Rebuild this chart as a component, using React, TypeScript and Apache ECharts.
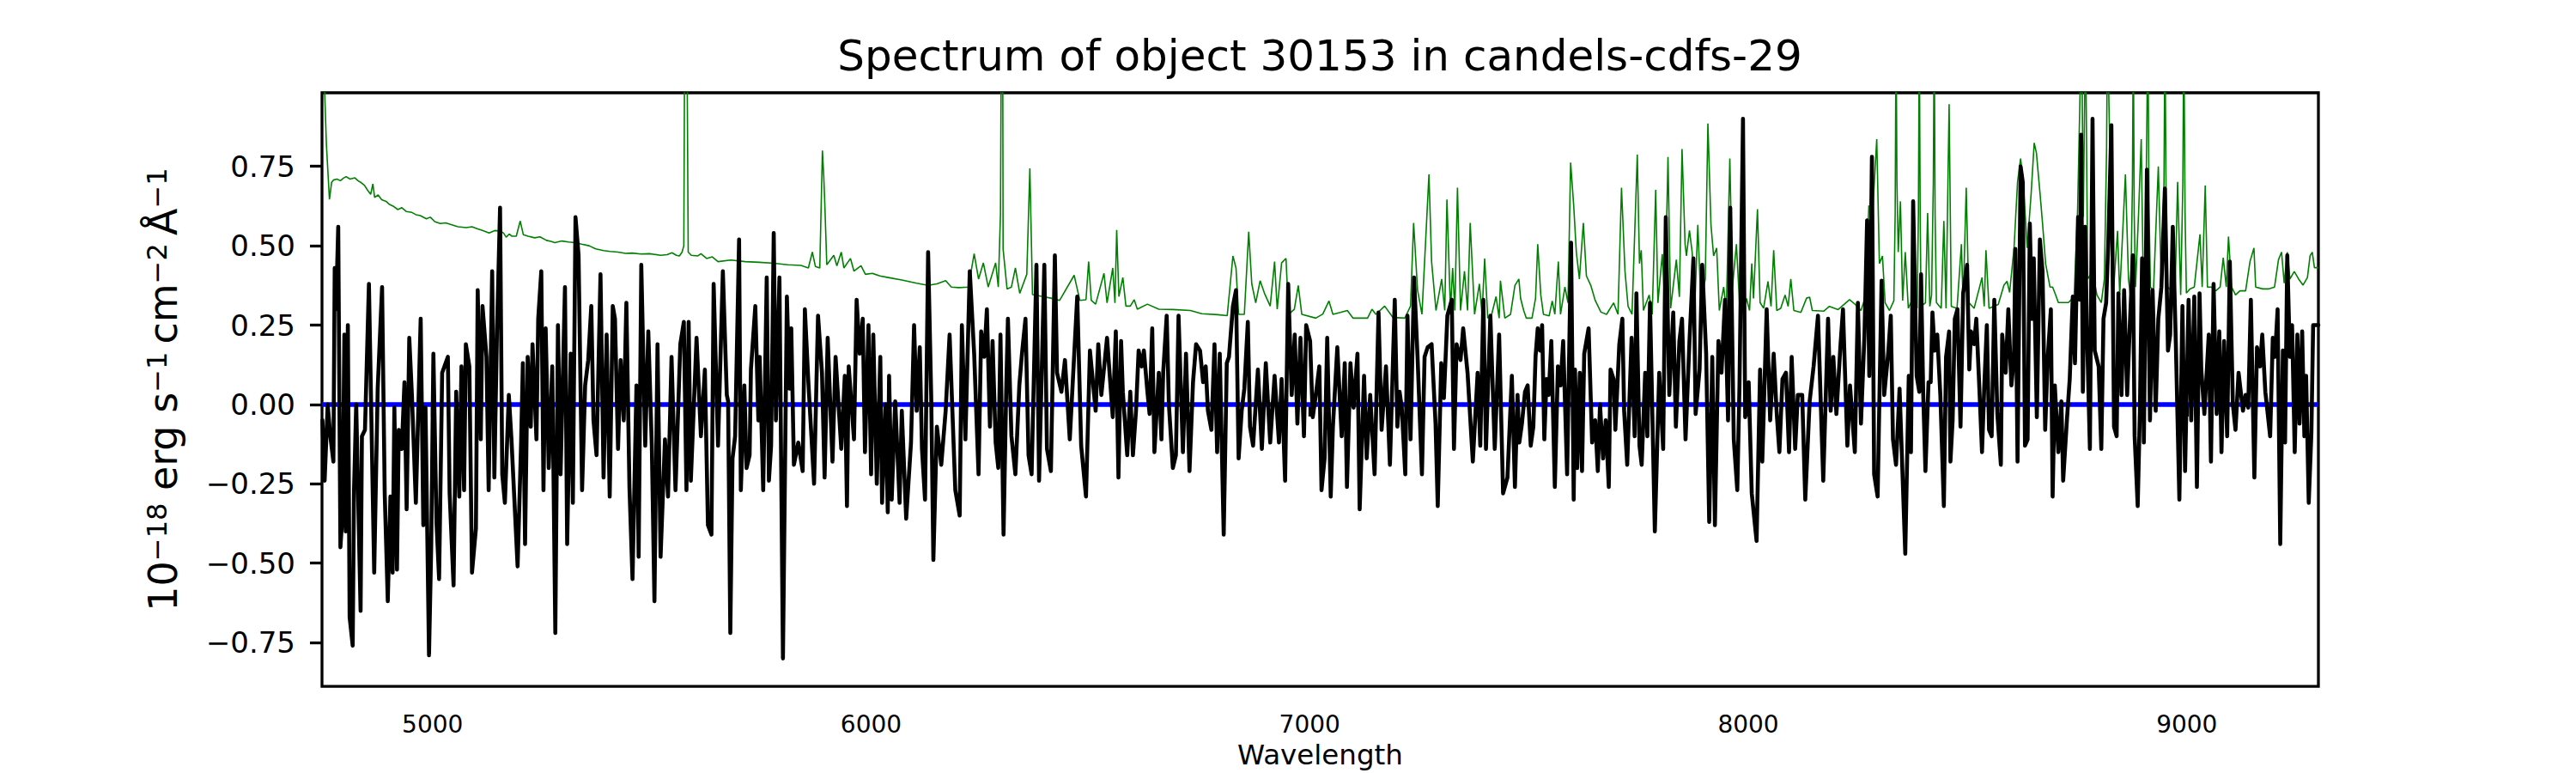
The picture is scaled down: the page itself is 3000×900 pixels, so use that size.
import React, { useEffect, useRef } from "react";
import * as echarts from "echarts";

// ---- Data (wavelength in Å, flux in 1e-18 erg/s/cm2/Å) ----
const TITLE = "Spectrum of object 30153 in candels-cdfs-29";
const X_NAME = "Wavelength";
const X_MIN = 4748;
const X_MAX = 9300;
const Y_MIN = -0.888;
const Y_MAX = 0.982;
const X_TICKS = [5000, 6000, 7000, 8000, 9000];
const Y_TICKS = [-0.75, -0.5, -0.25, 0, 0.25, 0.5, 0.75];
const ZERO_LEVEL = 0;

const blackA = [
  [4749, -0.05], [4754, -0.24], [4761, 0.0], [4767, -0.1], [4774, -0.18], [4777, 0.43], [4780, 0.3], [4785, 0.56],
  [4790, -0.45], [4795, -0.34], [4799, 0.22], [4802, -0.4], [4807, 0.25], [4811, -0.67], [4818, -0.76], [4821, -0.27],
  [4826, 0.0], [4836, -0.65], [4839, -0.1], [4846, -0.08], [4855, 0.38], [4867, -0.53], [4875, 0.05], [4885, 0.37],
  [4891, -0.28], [4898, -0.62], [4904, -0.29], [4909, -0.53], [4913, -0.01], [4919, -0.52], [4923, -0.08], [4930, -0.14],
  [4936, 0.07], [4941, -0.33], [4947, 0.21], [4953, 0.03], [4962, -0.31], [4973, 0.27], [4979, -0.38], [4984, -0.01],
  [4992, -0.79], [4997, -0.45], [5002, 0.16], [5009, -0.37], [5015, -0.55], [5022, 0.1], [5035, 0.15], [5039, -0.28],
  [5048, -0.57], [5054, 0.04], [5061, -0.29], [5066, 0.12], [5072, -0.27], [5076, 0.19], [5084, 0.12], [5090, -0.53],
  [5099, -0.39], [5103, 0.36], [5110, -0.11], [5114, 0.31], [5123, 0.15], [5128, -0.27], [5136, 0.42], [5141, -0.23],
  [5147, 0.23], [5154, 0.62], [5159, -0.22], [5165, -0.31], [5174, 0.03], [5180, -0.11], [5194, -0.51], [5202, -0.12],
  [5206, 0.13], [5211, -0.44], [5217, 0.15], [5224, -0.07], [5228, 0.19], [5237, -0.11], [5241, 0.27], [5248, 0.42],
  [5253, -0.27], [5258, 0.24], [5265, -0.2], [5273, 0.12], [5280, -0.72], [5286, 0.25], [5292, -0.22], [5302, 0.37],
  [5307, -0.44], [5315, 0.16], [5320, -0.31], [5326, 0.59], [5333, 0.47], [5341, -0.27], [5348, 0.06], [5355, 0.14],
  [5362, 0.31], [5367, -0.05], [5374, -0.16], [5383, 0.41], [5390, -0.23], [5397, 0.22], [5404, -0.29], [5411, 0.31],
  [5416, 0.27], [5423, -0.14], [5429, 0.14], [5436, -0.05], [5442, 0.32], [5449, -0.26], [5456, -0.55], [5465, 0.06],
  [5470, -0.48], [5476, 0.44], [5485, -0.13], [5492, 0.23], [5500, -0.13], [5506, -0.62], [5513, 0.19], [5520, -0.48],
  [5530, -0.11], [5537, -0.29], [5545, 0.15], [5554, -0.27], [5565, 0.19], [5573, 0.26], [5579, -0.27], [5584, 0.26],
  [5589, -0.24], [5602, 0.21], [5612, -0.1], [5621, 0.11], [5628, -0.38], [5636, -0.41], [5641, 0.38], [5651, -0.13],
];

const blackB = [
  [5662, 0.42], [5671, 0.03], [5674, 0.01], [5679, -0.72], [5684, -0.17], [5690, -0.1], [5699, 0.52], [5703, -0.27],
  [5711, 0.06], [5716, -0.2], [5723, -0.16], [5726, 0.11], [5736, 0.31], [5743, -0.05], [5746, 0.15], [5754, -0.27],
  [5762, 0.4], [5767, -0.24], [5772, -0.13], [5778, 0.54], [5783, -0.05], [5791, 0.4], [5799, -0.8], [5808, 0.34],
  [5814, 0.05], [5818, 0.24], [5824, -0.19], [5834, -0.12], [5844, -0.21], [5849, 0.3], [5857, 0.07], [5870, -0.25],
  [5879, 0.28], [5888, 0.1], [5894, -0.23], [5901, 0.21], [5912, -0.18], [5919, 0.15], [5932, -0.14], [5940, 0.09],
  [5945, -0.32], [5949, 0.12], [5961, -0.11], [5967, 0.33], [5974, 0.16], [5981, 0.27], [5986, -0.15], [5994, 0.25],
  [6000, -0.22], [6005, 0.22], [6013, -0.25], [6021, 0.15], [6025, -0.31], [6033, 0.0], [6038, -0.34], [6041, 0.09],
  [6047, -0.3], [6055, 0.01], [6065, -0.31], [6070, -0.02], [6080, -0.36], [6091, -0.12], [6098, 0.25], [6104, -0.02],
  [6111, 0.18], [6116, -0.14], [6123, -0.3], [6130, 0.48], [6137, 0.03], [6142, -0.49], [6150, -0.07], [6160, -0.19],
  [6170, -0.02], [6179, 0.22], [6192, -0.27], [6202, -0.35], [6207, 0.25], [6215, -0.11], [6225, 0.42], [6235, 0.16],
  [6245, -0.22], [6251, 0.23], [6258, 0.15], [6264, 0.3], [6271, -0.07], [6277, 0.2], [6284, -0.12], [6290, -0.2],
  [6295, 0.22], [6302, -0.41], [6308, 0.04], [6312, 0.27], [6320, -0.1], [6329, -0.22], [6338, 0.06], [6344, 0.16],
  [6352, 0.27], [6359, -0.16], [6366, -0.22], [6377, 0.44], [6383, -0.24], [6395, 0.44], [6401, -0.14], [6410, -0.21],
  [6419, 0.47], [6424, 0.1], [6434, 0.04], [6442, 0.14], [6453, -0.11], [6470, 0.34], [6479, -0.13], [6490, -0.29],
  [6499, 0.17], [6512, -0.02], [6518, 0.19], [6525, 0.03], [6538, 0.21], [6551, -0.04], [6558, 0.23], [6564, -0.23],
];

const blackC = [
  [6570, 0.2], [6574, 0.04], [6584, -0.16], [6591, 0.04], [6597, -0.16], [6604, -0.02], [6610, 0.17], [6617, 0.12],
  [6622, 0.17], [6630, 0.04], [6635, -0.03], [6641, 0.24], [6646, -0.15], [6656, 0.1], [6662, -0.11], [6666, 0.1],
  [6674, 0.28], [6679, 0.0], [6688, -0.2], [6695, -0.16], [6701, 0.28], [6711, -0.15], [6718, 0.16], [6726, -0.21],
  [6734, 0.07], [6741, 0.19], [6750, 0.17], [6757, 0.07], [6763, 0.12], [6768, -0.02], [6776, -0.08], [6783, 0.19],
  [6789, -0.15], [6795, 0.16], [6804, -0.41], [6811, 0.13], [6816, 0.15], [6825, 0.31], [6832, 0.36], [6838, -0.17],
  [6845, -0.02], [6851, 0.05], [6859, 0.26], [6864, -0.07], [6871, -0.13], [6882, 0.11], [6891, -0.14], [6900, 0.13],
  [6910, -0.12], [6920, 0.09], [6930, -0.12], [6936, 0.08], [6944, -0.24], [6951, 0.38], [6959, 0.03], [6966, 0.22],
  [6972, -0.06], [6979, 0.21], [6987, -0.1], [6992, 0.25], [7001, 0.2], [7007, -0.04], [7014, 0.03], [7022, 0.12],
  [7027, -0.27], [7034, -0.17], [7040, 0.21], [7048, -0.29], [7053, -0.07], [7063, 0.18], [7073, -0.1], [7080, 0.13],
  [7085, -0.26], [7093, 0.13], [7100, -0.01], [7109, 0.16], [7114, -0.33], [7124, 0.09], [7130, -0.17], [7138, 0.03],
  [7148, -0.22], [7157, 0.29], [7164, -0.08], [7174, 0.12], [7183, -0.19], [7194, 0.33], [7200, -0.07], [7205, 0.04],
  [7210, -0.01], [7218, -0.22], [7223, 0.28], [7230, -0.11], [7238, 0.4], [7246, 0.15], [7256, -0.22], [7262, 0.15],
  [7269, 0.18], [7278, 0.19], [7287, -0.06], [7292, -0.32], [7300, 0.13], [7306, 0.02], [7314, 0.28], [7324, 0.33],
  [7329, -0.14], [7335, 0.19], [7344, 0.14], [7350, 0.24], [7360, 0.1], [7372, -0.18], [7383, 0.1], [7389, -0.13],
  [7396, 0.33], [7402, -0.14], [7412, 0.28], [7422, -0.14], [7432, 0.22], [7441, -0.28], [7451, -0.23], [7461, 0.09],
  [7468, -0.26], [7474, 0.03],
];

const blackD = [
  [7478, -0.12], [7484, -0.06], [7491, 0.04], [7497, 0.06], [7504, -0.13], [7510, -0.07], [7515, 0.15], [7520, 0.24],
  [7525, 0.17], [7530, 0.25], [7535, -0.11], [7540, 0.08], [7545, 0.03], [7551, 0.2], [7559, -0.26], [7566, 0.12],
  [7572, 0.06], [7578, 0.2], [7587, -0.22], [7596, 0.51], [7602, -0.3], [7605, 0.11], [7610, -0.2], [7616, 0.1],
  [7621, -0.21], [7626, 0.16], [7636, 0.24], [7644, -0.12], [7651, -0.05], [7657, -0.21], [7662, 0.0], [7669, -0.17],
  [7675, -0.05], [7682, -0.26], [7686, 0.11], [7693, 0.08], [7697, -0.08], [7706, 0.19], [7713, 0.27], [7717, -0.02],
  [7724, -0.19], [7734, 0.21], [7741, -0.1], [7745, 0.35], [7752, -0.13], [7757, -0.19], [7765, 0.1], [7770, -0.1],
  [7776, 0.32], [7787, -0.4], [7797, 0.1], [7806, -0.14], [7812, 0.59], [7820, 0.03], [7829, 0.29], [7835, -0.07],
  [7843, 0.2], [7849, 0.27], [7857, -0.11], [7866, 0.2], [7875, 0.46], [7880, -0.03], [7889, 0.11], [7895, 0.44],
  [7904, 0.16], [7911, -0.37], [7918, 0.15], [7924, -0.38], [7932, 0.2], [7939, 0.1], [7947, 0.33], [7954, -0.05],
  [7959, 0.62], [7967, -0.11], [7975, -0.27], [7980, 0.06], [7988, 0.9], [7993, -0.04], [8001, 0.07], [8008, -0.28],
  [8019, -0.43], [8027, 0.11], [8032, -0.18], [8042, 0.3], [8050, -0.05], [8058, 0.16], [8065, -0.03], [8071, -0.15],
  [8078, 0.08], [8086, 0.1], [8093, -0.15], [8099, 0.15], [8107, -0.14], [8113, 0.03], [8123, 0.03], [8130, -0.3],
  [8140, 0.01], [8149, 0.12], [8159, 0.28], [8171, -0.24], [8182, 0.27], [8188, -0.02], [8194, 0.15], [8201, -0.03],
  [8210, 0.18], [8216, 0.3], [8226, -0.13], [8232, 0.06], [8243, -0.15], [8250, 0.32], [8257, -0.06], [8265, 0.22],
  [8271, 0.58], [8276, 0.09], [8282, 0.78], [8287, -0.22], [8295, -0.29], [8304, 0.39], [8310, 0.03], [8319, 0.16],
  [8325, 0.28], [8330, -0.11], [8337, -0.19], [8345, 0.05], [8358, -0.47], [8366, 0.09], [8371, -0.15], [8376, 0.64],
  [8384, 0.09],
];

const blackE = [
  [8390, 0.04], [8394, 0.41], [8399, 0.03], [8404, -0.21], [8411, 0.07], [8416, 0.07], [8420, 0.29], [8425, 0.17],
  [8431, 0.22], [8438, 0.03], [8446, -0.32], [8451, 0.15], [8458, 0.23], [8461, -0.18], [8466, -0.05], [8471, 0.27],
  [8477, 0.3], [8484, -0.07], [8490, 0.35], [8499, 0.44], [8504, 0.11], [8508, 0.23], [8515, 0.19], [8520, 0.27],
  [8527, 0.05], [8533, -0.15], [8538, 0.05], [8544, 0.25], [8549, -0.08], [8555, -0.1], [8561, 0.33], [8568, -0.03],
  [8576, -0.19], [8579, 0.22], [8587, 0.1], [8593, 0.3], [8600, 0.06], [8606, 0.15], [8609, 0.49], [8614, -0.18],
  [8621, 0.75], [8626, 0.7], [8631, -0.13], [8637, -0.11], [8642, 0.57], [8647, 0.27], [8651, 0.46], [8658, -0.04],
  [8665, 0.52], [8671, 0.42], [8677, -0.08], [8683, 0.15], [8690, 0.3], [8694, -0.29], [8699, 0.06], [8707, -0.15],
  [8714, 0.01], [8718, -0.24], [8727, -0.04], [8733, 0.08], [8740, 0.34], [8745, 0.13], [8752, 0.59], [8756, 0.33],
  [8759, 0.85], [8763, 0.04], [8768, 0.56], [8772, 0.25], [8779, -0.14], [8785, 0.9], [8790, 0.17], [8799, 0.12],
  [8805, -0.14], [8810, 0.27], [8816, 0.32], [8821, 0.51], [8828, 0.88], [8834, -0.07], [8840, -0.1], [8844, 0.35],
  [8851, 0.03], [8857, 0.36], [8864, 0.03], [8870, 0.25], [8877, 0.47], [8881, -0.1], [8888, -0.32], [8893, -0.02],
  [8898, 0.46], [8902, -0.12], [8909, 0.74], [8916, -0.05], [8922, 0.36], [8929, -0.02], [8935, 0.27], [8942, 0.37],
  [8950, 0.68], [8957, 0.17], [8962, 0.22], [8968, 0.56], [8975, 0.19], [8983, -0.3], [8990, 0.31], [8996, -0.21],
  [9004, 0.33], [9010, -0.05], [9017, 0.34], [9023, -0.26], [9029, 0.35], [9033, 0.11], [9040, -0.03], [9050, 0.22],
  [9055, -0.18], [9061, 0.38], [9068, -0.03], [9074, 0.23], [9079, -0.15], [9085, 0.2], [9092, -0.1], [9098, 0.45],
  [9105, 0.0], [9111, -0.08], [9118, 0.1], [9128, -0.02], [9134, 0.03], [9140, -0.01], [9146, 0.33], [9154, -0.23],
  [9160, 0.18], [9167, 0.12], [9172, 0.22], [9179, 0.04], [9190, -0.1], [9196, 0.21], [9201, 0.15], [9207, 0.3],
  [9213, -0.44], [9219, 0.17], [9224, -0.12], [9229, 0.47], [9235, 0.15], [9240, 0.25], [9246, -0.15], [9252, 0.22],
  [9257, -0.06], [9263, 0.23], [9268, -0.1], [9272, 0.09], [9278, -0.31], [9284, -0.09], [9288, 0.25], [9296, 0.25],
  [9300, 0.25],
];

const greenA = [
  [4749, 1.2], [4758, 0.82], [4765, 0.646], [4770, 0.7], [4774, 0.707], [4782, 0.71], [4790, 0.705], [4797, 0.713],
  [4803, 0.718], [4812, 0.71], [4823, 0.714], [4830, 0.705], [4836, 0.7], [4845, 0.69], [4852, 0.675], [4859, 0.662],
  [4864, 0.695], [4868, 0.652], [4876, 0.66], [4884, 0.645], [4894, 0.64], [4902, 0.63], [4910, 0.625], [4921, 0.614],
  [4930, 0.62], [4940, 0.608], [4953, 0.605], [4962, 0.598], [4972, 0.595], [4986, 0.585], [4995, 0.59], [5005, 0.576],
  [5018, 0.57], [5030, 0.572], [5044, 0.566], [5058, 0.56], [5077, 0.557], [5090, 0.56], [5103, 0.553], [5115, 0.548],
  [5129, 0.54], [5142, 0.548], [5155, 0.546], [5162, 0.54], [5168, 0.527], [5175, 0.537], [5181, 0.53], [5191, 0.53],
  [5200, 0.578], [5207, 0.535], [5218, 0.53], [5233, 0.525], [5245, 0.528], [5260, 0.517], [5270, 0.514], [5279, 0.51],
  [5295, 0.515], [5310, 0.512], [5325, 0.51], [5340, 0.505], [5357, 0.5], [5372, 0.49], [5390, 0.485], [5405, 0.482],
  [5423, 0.48], [5440, 0.476], [5455, 0.477], [5475, 0.474], [5495, 0.475], [5520, 0.47], [5535, 0.472], [5546, 0.478],
  [5556, 0.47], [5563, 0.468], [5569, 0.48], [5573, 0.5], [5575, 1.2], [5580, 1.2], [5583, 0.48], [5590, 0.47],
  [5605, 0.468], [5612, 0.475], [5625, 0.46], [5638, 0.465], [5651, 0.45],
];

const greenB = [
  [5680, 0.455], [5713, 0.45], [5745, 0.448], [5778, 0.445], [5810, 0.44], [5840, 0.438], [5857, 0.43], [5866, 0.48],
  [5873, 0.435], [5883, 0.43], [5889, 0.8], [5892, 0.72], [5894, 0.65], [5899, 0.44], [5915, 0.47], [5922, 0.437],
  [5932, 0.48], [5938, 0.43], [5953, 0.46], [5961, 0.42], [5977, 0.437], [5987, 0.41], [6003, 0.413], [6020, 0.405],
  [6039, 0.4], [6070, 0.392], [6104, 0.382], [6130, 0.375], [6150, 0.38], [6170, 0.39], [6183, 0.37], [6200, 0.368],
  [6222, 0.37], [6235, 0.475], [6245, 0.395], [6256, 0.446], [6267, 0.37], [6284, 0.446], [6290, 0.37], [6295, 0.6],
  [6297, 1.2], [6300, 1.2], [6301, 0.49], [6310, 0.364], [6320, 0.37], [6329, 0.43], [6339, 0.35], [6355, 0.41],
  [6362, 0.744], [6368, 0.346], [6391, 0.34], [6410, 0.335], [6430, 0.328], [6463, 0.407], [6469, 0.37], [6476, 0.328],
  [6490, 0.33], [6496, 0.45], [6502, 0.328], [6512, 0.316], [6531, 0.413], [6538, 0.32], [6551, 0.43], [6556, 0.32],
  [6560, 0.55],
];

const greenC = [
  [6565, 0.34], [6574, 0.4], [6581, 0.31], [6591, 0.31], [6600, 0.33], [6607, 0.3], [6630, 0.316], [6656, 0.3],
  [6688, 0.299], [6728, 0.296], [6754, 0.286], [6790, 0.283], [6812, 0.28], [6825, 0.468], [6832, 0.43], [6838, 0.284],
  [6851, 0.284], [6861, 0.544], [6868, 0.38], [6877, 0.32], [6887, 0.39], [6897, 0.35], [6910, 0.31], [6920, 0.45],
  [6926, 0.3], [6936, 0.446], [6946, 0.46], [6952, 0.284], [6965, 0.3], [6974, 0.375], [6982, 0.284], [7014, 0.272],
  [7030, 0.285], [7044, 0.326], [7053, 0.284], [7070, 0.29], [7086, 0.296], [7099, 0.272], [7132, 0.272], [7142, 0.3],
  [7151, 0.284], [7171, 0.31], [7190, 0.274], [7217, 0.272], [7230, 0.31], [7237, 0.572], [7246, 0.36], [7256, 0.284],
  [7272, 0.725], [7278, 0.45], [7288, 0.296], [7301, 0.395], [7308, 0.296], [7313, 0.646], [7321, 0.296], [7326, 0.43],
  [7331, 0.296], [7337, 0.683], [7344, 0.296], [7353, 0.42], [7360, 0.296], [7366, 0.572], [7376, 0.284], [7387, 0.38],
  [7393, 0.284], [7399, 0.46], [7406, 0.272], [7415, 0.284], [7425, 0.34], [7432, 0.272], [7435, 0.39], [7445, 0.272],
  [7458, 0.284], [7468, 0.375], [7477, 0.395],
];

const greenD = [
  [7481, 0.334], [7488, 0.296], [7494, 0.272], [7507, 0.272], [7515, 0.334], [7520, 0.505], [7527, 0.345], [7533, 0.284],
  [7546, 0.279], [7553, 0.326], [7559, 0.284], [7567, 0.45], [7572, 0.284], [7582, 0.37], [7589, 0.32], [7595, 0.762],
  [7602, 0.627], [7608, 0.48], [7615, 0.395], [7624, 0.572], [7631, 0.405], [7641, 0.375], [7651, 0.328], [7664, 0.291],
  [7677, 0.284], [7693, 0.32], [7703, 0.284], [7711, 0.683], [7719, 0.419], [7726, 0.309], [7735, 0.284], [7747, 0.787],
  [7752, 0.444], [7756, 0.486], [7761, 0.296], [7774, 0.345], [7781, 0.284], [7789, 0.676], [7794, 0.32], [7804, 0.474],
  [7810, 0.309], [7817, 0.78], [7823, 0.303], [7836, 0.456], [7843, 0.339], [7849, 0.805], [7856, 0.505], [7859, 0.468],
  [7866, 0.548], [7872, 0.481], [7879, 0.339], [7885, 0.566], [7892, 0.32], [7902, 0.395], [7908, 0.885], [7915, 0.566],
  [7921, 0.468], [7928, 0.493], [7934, 0.296], [7944, 0.37], [7950, 0.296], [7958, 0.775], [7964, 0.37], [7973, 0.505],
  [7980, 0.321], [7990, 0.303], [7996, 0.334], [8003, 0.296], [8008, 0.444], [8012, 0.334], [8021, 0.615], [8027, 0.321],
  [8035, 0.303], [8045, 0.388], [8052, 0.309], [8058, 0.486], [8065, 0.296], [8074, 0.303], [8084, 0.345], [8091, 0.309],
  [8097, 0.395], [8104, 0.296], [8120, 0.29], [8133, 0.335], [8140, 0.338], [8146, 0.296], [8172, 0.294], [8185, 0.309],
  [8205, 0.299], [8231, 0.33], [8244, 0.315], [8257, 0.296], [8267, 0.339], [8275, 0.627], [8282, 0.566], [8293, 0.836],
  [8299, 0.444], [8306, 0.468], [8312, 0.321], [8322, 0.296], [8332, 0.327], [8335, 0.6], [8337, 1.2], [8339, 0.7],
  [8342, 0.48], [8347, 0.64], [8352, 0.327], [8358, 0.48], [8365, 0.303], [8374, 0.33], [8378, 0.37],
];

const greenE = [
  [8385, 0.303], [8388, 0.6], [8390, 1.2], [8392, 0.6], [8394, 0.309], [8404, 0.32], [8409, 0.603], [8414, 0.309],
  [8418, 0.345], [8422, 0.7], [8424, 1.2], [8426, 0.6], [8429, 0.321], [8440, 0.303], [8446, 0.578], [8451, 0.303],
  [8458, 0.946], [8463, 0.309], [8476, 0.303], [8486, 0.505], [8490, 0.321], [8497, 0.683], [8503, 0.321], [8515, 0.303],
  [8533, 0.4], [8538, 0.309], [8542, 0.486], [8549, 0.303], [8570, 0.315], [8583, 0.376], [8590, 0.388], [8596, 0.353],
  [8606, 0.493], [8614, 0.701], [8621, 0.775], [8627, 0.701], [8636, 0.493], [8645, 0.664], [8652, 0.824], [8657, 0.793],
  [8665, 0.669], [8671, 0.571], [8678, 0.444], [8688, 0.37], [8694, 0.37], [8701, 0.345], [8707, 0.321], [8730, 0.321],
  [8743, 0.339], [8751, 0.615], [8756, 0.946], [8760, 1.2], [8764, 0.591], [8769, 1.2], [8774, 0.395], [8785, 0.419],
  [8795, 0.345], [8805, 0.321], [8812, 0.395], [8817, 0.8], [8819, 1.2], [8825, 0.762], [8830, 0.345], [8834, 0.382],
  [8842, 0.547], [8847, 0.345], [8860, 0.725], [8867, 0.395], [8872, 0.333], [8876, 0.7], [8878, 1.2], [8880, 0.6],
  [8883, 0.37], [8890, 0.603], [8896, 0.836], [8901, 0.345], [8906, 0.517], [8909, 0.9], [8911, 1.2], [8914, 0.6],
  [8917, 0.37], [8924, 0.358], [8935, 0.75], [8942, 0.37], [8948, 0.7], [8950, 1.2], [8953, 0.6], [8956, 0.37],
  [8965, 0.358], [8973, 0.345], [8979, 0.701], [8986, 0.345], [8991, 0.7], [8993, 1.2], [8996, 0.6], [8999, 0.351],
  [9007, 0.364], [9017, 0.37], [9030, 0.536], [9035, 0.37], [9042, 0.69], [9047, 0.37], [9056, 0.37], [9066, 0.358],
  [9076, 0.37], [9083, 0.462], [9090, 0.37], [9095, 0.529], [9102, 0.37], [9111, 0.345], [9121, 0.358], [9134, 0.358],
  [9144, 0.45], [9153, 0.493], [9157, 0.37], [9173, 0.364], [9186, 0.364], [9200, 0.37], [9209, 0.456], [9216, 0.48],
  [9222, 0.382], [9229, 0.48], [9235, 0.395], [9245, 0.419], [9255, 0.395], [9265, 0.376], [9275, 0.4], [9281, 0.468],
  [9286, 0.48], [9291, 0.431], [9297, 0.431], [9300, 0.43],
];

const FONT = "DejaVu Sans";
const fmtMinus = (v: number, d: number) => v.toFixed(d).replace("-", "\u2212");

export default function App() {
  const ref = useRef<HTMLDivElement>(null);

  useEffect(() => {
    if (!ref.current) return;
    document.body.style.margin = "0";
    const chart = echarts.init(ref.current, undefined, { renderer: "svg" });

    const black = [...blackA, ...blackB, ...blackC, ...blackD, ...blackE];
    const green = [...greenA, ...greenB, ...greenC, ...greenD, ...greenE];
    const zero = [
      [X_MIN, ZERO_LEVEL],
      [X_MAX, ZERO_LEVEL],
    ];

    const option: any = {
      animation: false,
      backgroundColor: "#ffffff",
      grid: {
        left: 375,
        right: 300,
        top: 108,
        bottom: 99,
        show: true,
        borderColor: "#000000",
        borderWidth: 3.3,
        backgroundColor: "transparent",
      },
      graphic: [
        {
          type: "text",
          x: 1537,
          y: 65,
          style: {
            text: TITLE,
            fontFamily: FONT,
            fontSize: 50,
            fill: "#000000",
            textAlign: "center",
            textVerticalAlign: "middle",
          },
        },
      ],
      xAxis: {
        type: "value",
        min: X_MIN,
        max: X_MAX,
        name: X_NAME,
        nameLocation: "middle",
        nameGap: 58,
        nameTextStyle: { fontFamily: FONT, fontSize: 32.5, color: "#000000" },
        axisLine: { show: false },
        splitLine: { show: false },
        axisTick: {
          show: true,
          length: 14,
          customValues: X_TICKS,
          lineStyle: { color: "#000000", width: 3.3 },
        },
        axisLabel: {
          customValues: X_TICKS,
          fontFamily: FONT,
          fontSize: 28,
          color: "#000000",
          margin: 30,
          formatter: (v: number) => String(v),
        },
      },
      yAxis: {
        type: "value",
        min: Y_MIN,
        max: Y_MAX,
        name: "{m|10}{s|\u221218}{m| erg s}{s|\u22121}{m|\u2009cm}{s|\u22122}{m|\u2009\u00c5}{s|\u22121}",
        nameLocation: "middle",
        nameRotate: 90,
        nameGap: 162,
        nameTextStyle: {
          fontFamily: FONT,
          color: "#000000",
          rich: {
            m: { fontFamily: FONT, fontSize: 46, lineHeight: 46, verticalAlign: "bottom", color: "#000000" },
            s: { fontFamily: FONT, fontSize: 32, lineHeight: 17, verticalAlign: "top", color: "#000000" },
          },
        },
        axisLine: { show: false },
        splitLine: { show: false },
        axisTick: {
          show: true,
          length: 14,
          customValues: Y_TICKS,
          lineStyle: { color: "#000000", width: 3.3 },
        },
        axisLabel: {
          customValues: Y_TICKS,
          fontFamily: FONT,
          fontSize: 34,
          color: "#000000",
          margin: 31,
          formatter: (v: number) => fmtMinus(v, 2),
        },
      },
      series: [
        {
          name: "noise",
          type: "line",
          data: green,
          showSymbol: false,
          symbol: "none",
          clip: true,
          lineStyle: { color: "#008000", width: 1.6 },
          z: 2,
        },
        {
          name: "zero",
          type: "line",
          data: zero,
          showSymbol: false,
          symbol: "none",
          clip: true,
          lineStyle: { color: "#0000ff", width: 5.5 },
          z: 2,
        },
        {
          name: "flux",
          type: "line",
          data: black,
          showSymbol: false,
          symbol: "none",
          clip: true,
          lineStyle: { color: "#000000", width: 4.6, join: "round", cap: "round" },
          z: 3,
        },
      ],
    };

    chart.setOption(option);
    return () => chart.dispose();
  }, []);

  return (
    <div
      ref={ref}
      style={{ position: "fixed", left: 0, top: 0, width: 3000, height: 900, background: "#ffffff" }}
    />
  );
}
